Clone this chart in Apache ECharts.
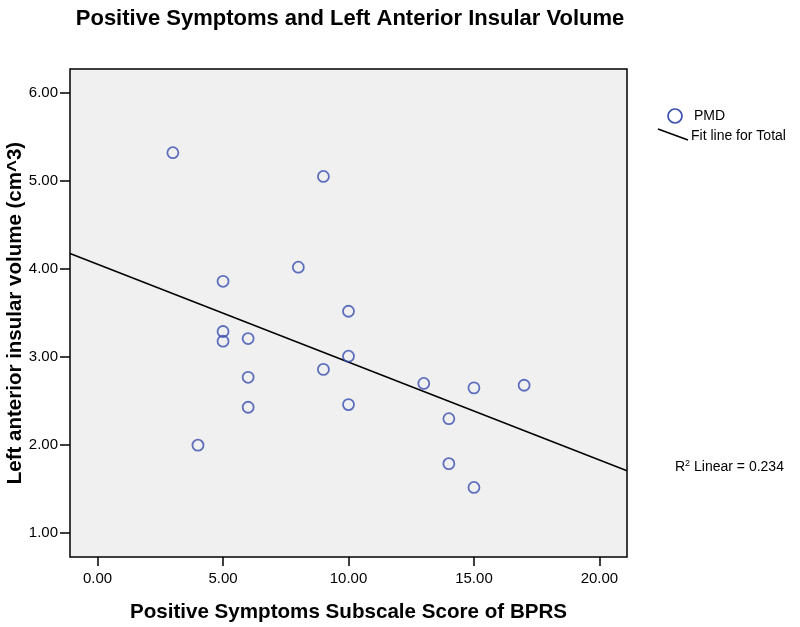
<!DOCTYPE html>
<html>
<head>
<meta charset="utf-8">
<script src="https://cdn.jsdelivr.net/npm/echarts@6/dist/echarts.min.js"></script>
<style>
html,body{margin:0;padding:0;background:#fff;}
#chart{width:800px;height:627px;}
</style>
</head>
<body>
<div id="chart"></div>
<script>
// Data
const bprsScores = [3, 9, 8, 5, 10, 5, 5, 6, 10, 9, 6, 6, 10, 4, 13, 15, 17, 14, 14, 15];
const insularVolumes = [5.32, 5.05, 4.02, 3.86, 3.52, 3.29, 3.18, 3.21, 3.01, 2.86, 2.77, 2.43, 2.46, 2.00, 2.70, 2.65, 2.68, 2.30, 1.79, 1.52];
const xTicks = [0, 5, 10, 15, 20];
const yTicks = [1, 2, 3, 4, 5, 6];
const xRange = [-1.1, 21.1];
const yRange = [0.73, 6.27];
const rSquaredText = '0.234';

// Least squares fit line (as drawn by SPSS "Fit line for Total")
const n = bprsScores.length;
const mx = bprsScores.reduce((a, b) => a + b, 0) / n;
const my = insularVolumes.reduce((a, b) => a + b, 0) / n;
let sxy = 0, sxx = 0;
for (let i = 0; i < n; i++) {
  sxy += (bprsScores[i] - mx) * (insularVolumes[i] - my);
  sxx += (bprsScores[i] - mx) * (bprsScores[i] - mx);
}
const slope = sxy / sxx;
const intercept = my - slope * mx;
const fitLine = xRange.map(x => [x, intercept + slope * x]);

const points = bprsScores.map((x, i) => [x, insularVolumes[i]]);
const FONT = '"Liberation Sans", Arial, sans-serif';
const BLUE = '#3a4fb0';

const chart = echarts.init(document.getElementById('chart'), null, {renderer: 'canvas'});
chart.setOption({
  animation: false,
  backgroundColor: '#ffffff',
  title: {
    text: 'Positive Symptoms and Left Anterior Insular Volume',
    left: 345, top: 3, textAlign: 'center',
    textStyle: {fontFamily: FONT, fontWeight: 'bold', fontSize: 22, color: '#000'}
  },
  grid: {
    left: 70, right: 173, top: 69, bottom: 70,
    outerBoundsMode: 'none', containLabel: false,
    show: true, backgroundColor: '#f0f0f0', borderColor: '#000', borderWidth: 1.5
  },
  xAxis: {
    type: 'value', min: xRange[0], max: xRange[1],
    name: 'Positive Symptoms Subscale Score of BPRS',
    nameLocation: 'middle', nameGap: 45,
    nameTextStyle: {fontFamily: FONT, fontWeight: 'bold', fontSize: 20.6, color: '#000'},
    axisLine: {show: false, onZero: false},
    splitLine: {show: false},
    axisTick: {show: true, length: 9, customValues: xTicks, lineStyle: {color: '#000', width: 1.5}},
    axisLabel: {customValues: xTicks, formatter: v => v.toFixed(2), margin: 14,
      fontFamily: FONT, fontSize: 15, color: '#000'}
  },
  yAxis: {
    type: 'value', min: yRange[0], max: yRange[1],
    name: 'Left anterior insular volume (cm^3)',
    nameLocation: 'middle', nameGap: 44, nameRotate: 90, nameMoveOverlap: false,
    nameTextStyle: {fontFamily: FONT, fontWeight: 'bold', fontSize: 20.5, color: '#000'},
    axisLine: {show: false, onZero: false},
    splitLine: {show: false},
    axisTick: {show: true, length: 10, customValues: yTicks, lineStyle: {color: '#000', width: 1.5}},
    axisLabel: {customValues: yTicks, formatter: v => v.toFixed(2), margin: 12,
      fontFamily: FONT, fontSize: 15, color: '#000'}
  },
  series: [
    {
      type: 'line', data: fitLine, showSymbol: false, symbol: 'none',
      lineStyle: {color: '#000', width: 1.5}, silent: true, z: 2
    },
    {
      type: 'scatter', data: points, symbol: 'circle', symbolSize: 11,
      itemStyle: {color: 'rgba(0,0,0,0)', borderColor: BLUE, borderWidth: 1.8}, z: 3
    }
  ],
  graphic: [
    {type: 'circle', shape: {cx: 675, cy: 116, r: 7}, style: {fill: 'none', stroke: BLUE, lineWidth: 1.7}},
    {type: 'text', x: 694, y: 116, style: {text: 'PMD', font: '14px ' + FONT, fill: '#000', verticalAlign: 'middle'}},
    {type: 'line', shape: {x1: 658, y1: 129, x2: 688, y2: 140}, style: {stroke: '#000', lineWidth: 1.5}},
    {type: 'text', x: 691, y: 136, style: {text: 'Fit line for Total', font: '14px ' + FONT, fill: '#000', verticalAlign: 'middle'}},
    {type: 'text', x: 675, y: 467, style: {
      text: 'R{sup|2} Linear = ' + rSquaredText,
      font: '14px ' + FONT, fill: '#000', verticalAlign: 'middle',
      rich: {sup: {fontSize: 9, verticalAlign: 'top', padding: [0, 0, 7, 0], fontFamily: FONT}}
    }}
  ]
});
</script>
</body>
</html>
